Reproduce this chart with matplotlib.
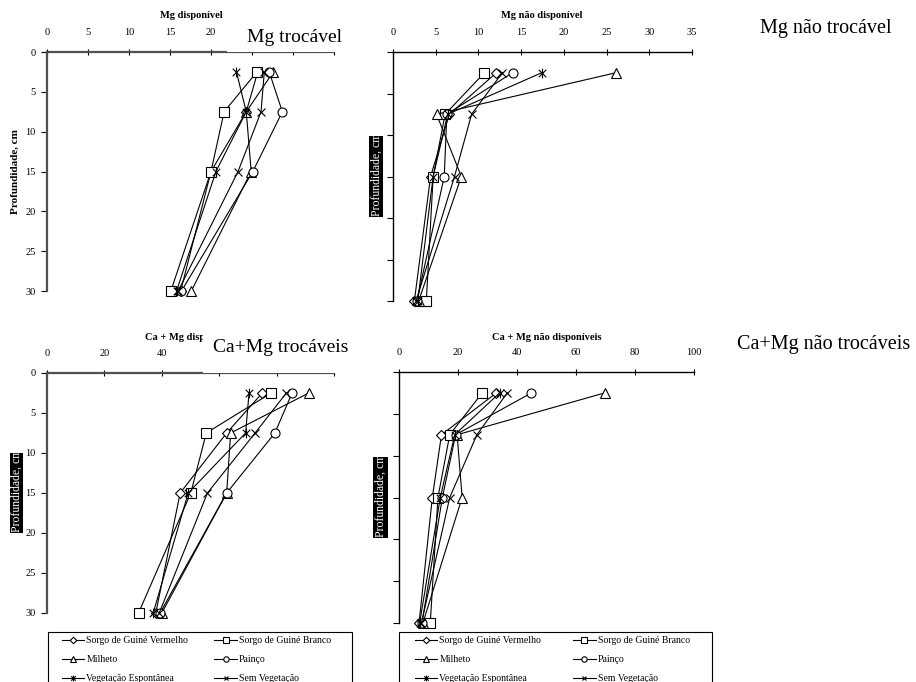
import numpy as np
import matplotlib
matplotlib.use("Agg")
import matplotlib.pyplot as plt
from matplotlib.patches import Rectangle
from matplotlib.path import Path
from matplotlib.lines import Line2D

plt.rcParams['font.family'] = 'Liberation Serif'

W, H = 916, 682

# profundidade das amostras (cm)
depths = [2.5, 7.5, 15, 30]

series_names = ['Sorgo de Guiné Vermelho', 'Sorgo de Guiné Branco', 'Milheto',
                'Painço', 'Vegetação Espontânea', 'Sem Vegetação']

# Mg disponível
mg_disp_verm = [25.7, 24.3, 20.0, 16.3]
mg_disp_branco = [25.6, 21.6, 20.0, 15.1]
mg_disp_milheto = [27.6, 24.3, 24.9, 17.6]
mg_disp_painco = [27.1, 28.7, 25.1, 16.4]
mg_disp_espont = [23.1, 24.3, 20.6, 15.8]
mg_disp_semveg = [26.5, 26.1, 23.3, 16.0]

# Mg não disponível
mg_nd_verm = [12.1, 6.6, 4.4, 2.5]
mg_nd_branco = [10.7, 6.1, 4.7, 3.9]
mg_nd_milheto = [26.1, 5.1, 8.0, 3.0]
mg_nd_painco = [14.0, 6.3, 6.0, 2.8]
mg_nd_espont = [17.4, 6.4, 4.7, 2.9]
mg_nd_semveg = [12.8, 9.2, 7.2, 2.7]

# Ca + Mg disponíveis
camg_disp_verm = [75.0, 62.6, 46.4, 37.9]
camg_disp_branco = [78.1, 55.5, 50.1, 31.9]
camg_disp_milheto = [91.2, 64.0, 62.6, 40.0]
camg_disp_painco = [85.4, 79.4, 62.6, 39.4]
camg_disp_espont = [70.4, 69.2, 49.2, 37.0]
camg_disp_semveg = [83.4, 72.5, 55.9, 39.1]

# Ca + Mg não disponíveis
camg_nd_verm = [33.0, 14.4, 11.3, 6.8]
camg_nd_branco = [28.2, 17.2, 13.2, 10.6]
camg_nd_milheto = [69.7, 19.7, 21.4, 8.1]
camg_nd_painco = [44.9, 19.2, 14.7, 7.8]
camg_nd_espont = [34.1, 18.9, 14.0, 7.0]
camg_nd_semveg = [36.7, 26.4, 17.2, 7.6]

# marcador asterisco (x com traço vertical)
ast = Path([(-1, -1), (1, 1), (-1, 1), (1, -1), (0, -1.3), (0, 1.3)],
           [Path.MOVETO, Path.LINETO, Path.MOVETO, Path.LINETO, Path.MOVETO, Path.LINETO])
markers = ['D', 's', '^', 'o', ast, 'x']
msizes = [5.5, 6.5, 7, 6.5, 7, 6]

fig = plt.figure(figsize=(W / 100, H / 100), dpi=100)


def px_axes(l, t, r, b):
    return fig.add_axes([l / W, 1 - b / H, (r - l) / W, (b - t) / H])


def draw_panel(ax, data, xmax, xstep, nlab, ylabels=True, lw_axis=1.0, axcolor='black'):
    for vals, m, ms in zip(data, markers, msizes):
        ax.plot(vals, depths, color='black', lw=0.8, marker=m, ms=ms,
                mfc='white', mec='black', mew=0.8, clip_on=False)
    ax.set_xlim(0, xmax)
    ax.set_ylim(30, 0)
    ax.xaxis.tick_top()
    xt = np.arange(0, xmax + 0.1, xstep)
    ax.set_xticks(xt)
    # rótulos encobertos pela caixa do título ficam em branco
    ax.set_xticklabels([f'{v:g}' if i < nlab else '' for i, v in enumerate(xt)])
    ax.set_yticks(np.arange(0, 31, 5))
    if not ylabels:
        ax.set_yticklabels([])
    ax.spines['right'].set_visible(False)
    ax.spines['bottom'].set_visible(False)
    for s in ['top', 'left']:
        ax.spines[s].set_linewidth(lw_axis)
        ax.spines[s].set_color(axcolor)
    ax.tick_params(axis='x', direction='inout', length=4, width=0.8, labelsize=7.5, pad=9)
    ax.tick_params(axis='y', direction='out', length=4, width=0.8, labelsize=7.5, pad=4)
    ax.patch.set_alpha(0)


ax1 = px_axes(47, 52, 334, 291)
draw_panel(ax1, [mg_disp_verm, mg_disp_branco, mg_disp_milheto, mg_disp_painco,
                 mg_disp_espont, mg_disp_semveg], 35, 5, 5, lw_axis=1.6, axcolor='#505050')
ax1.set_ylabel('Profundidade, cm', fontsize=8, fontweight='bold', labelpad=4)

ax2 = px_axes(393, 52, 692, 301)
draw_panel(ax2, [mg_nd_verm, mg_nd_branco, mg_nd_milheto, mg_nd_painco,
                 mg_nd_espont, mg_nd_semveg], 35, 5, 8, ylabels=False)

ax3 = px_axes(47, 373, 334, 613)
draw_panel(ax3, [camg_disp_verm, camg_disp_branco, camg_disp_milheto, camg_disp_painco,
                 camg_disp_espont, camg_disp_semveg], 100, 20, 3, lw_axis=1.6, axcolor='#505050')

ax4 = px_axes(399, 372, 694, 623)
draw_panel(ax4, [camg_nd_verm, camg_nd_branco, camg_nd_milheto, camg_nd_painco,
                 camg_nd_espont, camg_nd_semveg], 100, 20, 6, ylabels=False)


def ftext(x, y, s, **kw):
    return fig.text(x / W, 1 - y / H, s, **kw)


def frect(l, t, r, b, add=True, **kw):
    p = Rectangle((l / W, 1 - b / H), (r - l) / W, (b - t) / H,
                  transform=fig.transFigure, **kw)
    if add:
        fig.patches.append(p)
    return p


# títulos dos eixos
ftext(191, 15, 'Mg disponível', ha='center', va='center', fontsize=7.5, fontweight='bold')
ftext(542, 15, 'Mg não disponível', ha='center', va='center', fontsize=7.5, fontweight='bold')
t3 = ftext(190, 337, 'Ca + Mg disponíveis', ha='center', va='center', fontsize=7.5,
           fontweight='bold')
t3.set_clip_path(frect(0, 320, 203, 360, add=False))
ftext(547, 338, 'Ca + Mg não disponíveis', ha='center', va='center', fontsize=7.5,
      fontweight='bold')

# caixas brancas com os rótulos grandes
frect(227, 6, 366, 51.5, facecolor='white', edgecolor='none', zorder=5)
ftext(247, 37, 'Mg trocável', ha='left', va='center', fontsize=14, zorder=6)
frect(203, 322, 372, 372.5, facecolor='white', edgecolor='none', zorder=5)
ftext(213, 348, 'Ca+Mg trocáveis', ha='left', va='center', fontsize=14, zorder=6)
ftext(760, 28, 'Mg não trocável', ha='left', va='center', fontsize=14.5)
ftext(737, 345, 'Ca+Mg não trocáveis', ha='left', va='center', fontsize=14.5)

# rótulos "Profundidade, cm" em fundo preto (cortados)
for (l, t, r, b) in [(369, 136, 383, 217), (10, 453, 23, 533), (373, 457, 388, 538)]:
    box = frect(l, t, r, b, facecolor='black', edgecolor='none', zorder=5)
    txt = ftext((l + r) / 2 + 0.5, b - 1, 'Profundidade, cm', rotation=90, ha='center',
                va='bottom', fontsize=8.5, color='white', zorder=6)
    txt.set_clip_path(box)

# legendas
handles = [Line2D([], [], color='black', lw=0.8, marker=m, ms=ms * 0.6, mfc='white',
                  mec='black', mew=0.8) for m, ms in zip(markers, msizes)]
order = [0, 2, 4, 1, 3, 5]
for (l, r, x0, colsp) in [(48, 352, 60, 2.7), (399, 712, 413, 3.3)]:
    frect(l, 632, r, 700, facecolor='white', edgecolor='black', lw=0.8, zorder=4)
    fig.legend([handles[i] for i in order], [series_names[i] for i in order],
               loc='upper left', bbox_to_anchor=(x0 / W, 1 - 634 / H), ncol=2,
               frameon=False, fontsize=7, handlelength=2.3, handletextpad=0.2,
               labelspacing=1.05, columnspacing=colsp, borderpad=0.2,
               borderaxespad=0).set_zorder(6)

fig.savefig('out.png', dpi=100)
